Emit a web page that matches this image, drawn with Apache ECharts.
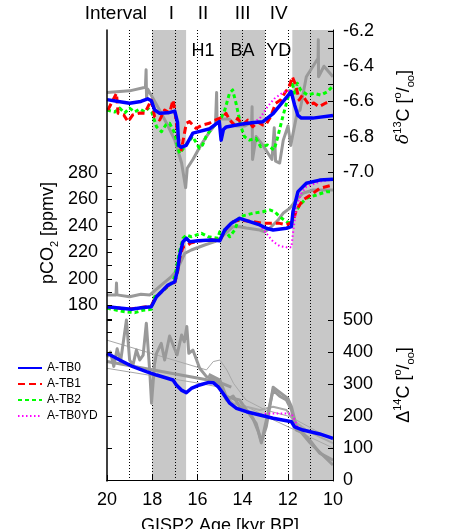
<!DOCTYPE html>
<html><head><meta charset="utf-8">
<script src="https://cdn.jsdelivr.net/npm/echarts@6/dist/echarts.min.js"></script>
<style>html,body{margin:0;padding:0;background:#fff}#c{width:465px;height:529px}</style>
</head><body><div id="c"></div><script>
// ---------- data ----------
const bands = [[18, 16.5], [15, 13], [11.8, 10]];
const dividers = [19, 18, 17, 16, 15, 14, 13, 12, 11];
const xTicks = [20, 18, 16, 14, 12, 10];
const d13cTicks = [-6.2, -6.4, -6.6, -6.8, -7.0];
const co2Ticks = [180, 200, 220, 240, 260, 280];
const d14cTicks = [0, 100, 200, 300, 400, 500];
const intervalNames = ['I', 'II', 'III', 'IV'];
const eventNames = ['H1', 'BA', 'YD'];
const seriesNames = ['A-TB0', 'A-TB1', 'A-TB2', 'A-TB0YD'];

// delta13C [permil]
const d13c_TB0 = [[20.0,-6.59],[19.5,-6.60],[19.0,-6.61],[18.5,-6.60],[18.2,-6.585],[18.04,-6.596],[17.89,-6.649],[17.67,-6.668],[17.3,-6.665],[17.0,-6.655],[16.88,-6.72],[16.83,-6.85],[16.7,-6.86],[16.5,-6.85],[16.2,-6.78],[15.9,-6.77],[15.45,-6.755],[15.2,-6.73],[15.03,-6.715],[14.95,-6.82],[14.85,-6.76],[14.72,-6.745],[14.1,-6.73],[13.5,-6.72],[13.1,-6.715],[12.65,-6.67],[11.85,-6.545],[11.7,-6.62],[11.55,-6.68],[11.4,-6.695],[10.9,-6.695],[10.0,-6.68]];
const d13c_TB1 = [[19.96,-6.649],[19.58,-6.554],[19.51,-6.668],[19.26,-6.677],[19.07,-6.715],[18.86,-6.677],[18.55,-6.666],[18.33,-6.668],[18.04,-6.592],[17.89,-6.689],[17.67,-6.706],[17.45,-6.649],[17.23,-6.666],[17.08,-6.592],[17.0,-6.649],[16.86,-6.80],[16.71,-6.876],[16.6,-6.80],[16.49,-6.724],[16.35,-6.715],[16.06,-6.753],[15.77,-6.734],[15.47,-6.724],[15.28,-6.71],[15.03,-6.696],[14.88,-6.687],[14.73,-6.668],[14.57,-6.706],[14.36,-6.734],[14.22,-6.696],[14.0,-6.734],[13.77,-6.706],[13.55,-6.744],[13.33,-6.717],[13.11,-6.734],[12.98,-6.734],[12.76,-6.687],[12.54,-6.611],[12.32,-6.592],[12.1,-6.545],[11.96,-6.524],[11.8,-6.46],[11.65,-6.507],[11.5,-6.592],[11.35,-6.564],[11.21,-6.592],[11.06,-6.62],[10.85,-6.609],[10.62,-6.63],[10.32,-6.609],[10.1,-6.602]];
const d13c_TB2 = [[20.0,-6.649],[19.66,-6.66],[19.44,-6.638],[19.22,-6.666],[19.0,-6.638],[18.77,-6.66],[18.55,-6.643],[18.33,-6.66],[18.19,-6.639],[18.02,-6.66],[17.81,-6.744],[17.59,-6.772],[17.4,-6.734],[17.23,-6.724],[17.0,-6.781],[16.87,-6.865],[16.78,-6.895],[16.56,-6.857],[16.34,-6.82],[16.21,-6.80],[15.91,-6.866],[15.77,-6.848],[15.62,-6.80],[15.32,-6.744],[15.03,-6.715],[14.81,-6.659],[14.58,-6.554],[14.44,-6.535],[14.29,-6.611],[14.07,-6.744],[13.92,-6.80],[13.7,-6.82],[13.41,-6.81],[13.2,-6.857],[12.9,-6.848],[12.61,-6.876],[12.46,-6.81],[12.24,-6.696],[12.02,-6.592],[11.8,-6.488],[11.7,-6.564],[11.58,-6.497],[11.43,-6.535],[11.13,-6.564],[10.84,-6.554],[10.54,-6.564],[10.25,-6.545],[10.03,-6.516]];
const d13c_TB0YD = [[20.0,-6.59],[19.5,-6.60],[19.0,-6.61],[18.5,-6.60],[18.2,-6.585],[18.04,-6.596],[17.89,-6.649],[17.67,-6.668],[17.3,-6.665],[17.0,-6.655],[16.88,-6.72],[16.83,-6.85],[16.7,-6.86],[16.5,-6.85],[16.2,-6.78],[15.9,-6.77],[15.45,-6.755],[15.2,-6.73],[15.03,-6.715],[14.95,-6.82],[14.85,-6.76],[14.72,-6.745],[14.1,-6.73],[13.5,-6.72],[13.2,-6.69],[12.9,-6.63],[12.6,-6.585],[12.3,-6.557],[12.0,-6.538],[11.85,-6.545],[11.7,-6.62],[11.55,-6.68],[11.4,-6.695],[10.9,-6.695],[10.0,-6.68]];
const d13c_obs = [[20.0,-6.55],[19.0,-6.54],[18.3,-6.52],[18.27,-6.42],[18.25,-6.58],[18.2,-6.53],[17.67,-6.65],[17.3,-6.74],[17.0,-6.82],[16.7,-6.95],[16.52,-7.09],[16.45,-6.98],[16.2,-6.93],[15.9,-6.86],[15.5,-6.78],[15.2,-6.73],[15.15,-6.55],[15.13,-6.7],[14.6,-6.7],[14.3,-6.74],[13.9,-6.74],[13.6,-6.72],[13.58,-6.63],[13.56,-6.93],[13.4,-6.8],[13.1,-6.85],[12.7,-6.93],[12.6,-6.75],[12.54,-6.94],[12.36,-6.95],[12.2,-6.82],[11.99,-6.74],[11.87,-6.85],[11.58,-6.66],[11.46,-6.65],[11.18,-6.46],[10.66,-6.355],[10.65,-6.25],[10.64,-6.46],[10.4,-6.40],[10.0,-6.46]];

// pCO2 [ppmv]
const co2_TB0 = [[20.0,179.1],[19.36,177.9],[18.92,177.1],[18.48,178.3],[18.04,179.1],[17.81,186.6],[17.59,190.4],[17.3,195.4],[17.0,197.9],[16.88,206.8],[16.78,218.1],[16.64,228.1],[16.49,230.6],[16.34,228.1],[15.97,228.8],[15.38,229.4],[15.01,228.8],[14.79,236.9],[14.5,241.9],[14.13,245.7],[13.69,243.2],[13.24,240.7],[12.95,238.2],[12.65,236.9],[12.06,238.2],[11.84,239.4],[11.77,250.7],[11.55,265.8],[11.18,272.1],[10.59,274.5],[10.0,275.1]];
const co2_TB1 = [[20.0,179],[19.4,178],[18.9,177.5],[18.5,178.5],[18.05,179.5],[17.85,186],[17.6,190],[17.3,195],[17.0,197.5],[16.88,205],[16.78,216],[16.64,224],[16.5,224.5],[16.3,227],[15.97,228.5],[15.4,229.5],[15.0,229],[14.72,238.2],[14.42,243.2],[14.13,244.4],[13.54,243.2],[13.1,241.9],[12.8,241.9],[12.36,241.9],[12.06,240.7],[11.77,243.2],[11.62,252],[11.33,259.5],[10.88,264.6],[10.59,268.3],[10.0,270.8]];
const co2_TB2 = [[20.0,178],[19.6,176.5],[19.22,175.3],[18.77,174.6],[18.4,176.5],[18.04,177.1],[17.89,186.6],[17.5,191.5],[17.15,196.7],[17.0,201.7],[16.78,221.8],[16.64,230.6],[16.49,233.1],[16.27,231.8],[15.82,234.4],[15.53,231.8],[15.09,230.6],[15.01,235.6],[14.8,237],[14.57,231.8],[14.35,236.9],[14.13,246.9],[13.83,248.2],[13.54,249.5],[13.1,250.7],[12.8,252],[12.58,250.7],[12.36,246.9],[12.06,243.2],[11.84,241.9],[11.7,249.5],[11.47,255.7],[11.18,260.8],[10.73,263.3],[10.29,265.8],[10.0,265.8]];
const co2_TB0YD = [[20.0,179.1],[19.36,177.9],[18.92,177.1],[18.48,178.3],[18.04,179.1],[17.81,186.6],[17.59,190.4],[17.3,195.4],[17.0,197.9],[16.88,206.8],[16.78,218.1],[16.64,228.1],[16.49,230.6],[16.34,228.1],[15.97,228.8],[15.38,229.4],[15.01,228.8],[14.79,236.9],[14.5,241.9],[14.13,245.7],[13.69,243.2],[13.24,240.7],[12.95,234.4],[12.65,228.1],[12.36,224.8],[12.06,223.9],[11.84,223.9],[11.77,234.4],[11.62,254.5],[11.4,264.6],[11.18,269.5],[10.59,273.3],[10.0,275]];
const co2_obs = [[20.0,188],[19.6,188],[19.58,197],[19.56,188],[19.0,186.6],[18.5,188.5],[18.1,188],[17.6,195.4],[17.15,201.7],[16.9,206.8],[16.56,219.3],[16.27,221.8],[15.68,225.6],[15.23,228.1],[15.01,230.6],[14.42,239.4],[14.13,239.4],[13.83,238.4],[13.24,236.9],[13.02,235.6],[12.8,238.2],[12.43,244.4],[12.21,249.5],[11.92,253.2],[11.62,259.5],[11.33,264.6],[10.88,267],[10.0,267]];

// Delta14C [permil]
const d14c_TB0 = [[20.0,396],[19.44,375],[18.85,354],[18.26,338.5],[17.81,328],[17.08,312.5],[16.93,297],[16.71,281],[16.49,273],[16.27,286],[15.9,297],[15.5,305],[15.3,304],[15.09,292],[14.87,271],[14.57,240],[14.27,224],[13.83,213.5],[13.24,203],[12.65,193],[12.06,185],[11.84,182],[11.7,166],[11.33,156],[10.59,144],[10.0,130]];
const d14c_TB0YD = [[20.0,396],[19.44,375],[18.85,354],[18.26,338.5],[17.81,328],[17.08,312.5],[16.93,297],[16.71,281],[16.49,273],[16.27,286],[15.9,297],[15.5,305],[15.3,304],[15.09,292],[14.87,271],[14.57,240],[14.27,224],[13.83,213.5],[13.24,203],[12.95,208],[11.84,208],[11.7,188],[11.55,163],[11.33,156],[10.59,144],[10.0,130]];
const d14c_obsA = [[20.0,385],[19.85,400],[19.7,355],[19.55,410],[19.4,370],[19.14,500],[19.0,375],[18.85,360],[18.7,406],[18.55,375],[18.4,390],[18.26,490],[18.1,330],[18.03,240],[17.9,360],[17.81,396],[17.6,427],[17.45,375],[17.23,450],[17.05,417],[16.9,391],[16.7,453],[16.58,432],[16.47,480],[16.38,396],[16.2,406],[15.9,349],[15.6,323],[15.3,315],[15.0,300],[14.72,250],[14.42,262],[14.13,229],[13.83,219],[13.55,194],[13.3,150],[13.17,116],[12.95,187],[12.65,281],[12.36,262],[12.06,250],[11.84,219],[11.62,156],[11.33,147],[11.03,125],[10.59,84],[10.0,62]];
const d14c_obsB = [[15.5,330],[15.0,312],[14.72,260],[14.13,250],[13.83,219],[13.4,177],[13.17,120],[12.95,167],[12.65,290],[12.0,255],[11.84,229],[11.62,167],[11.0,115],[10.0,47]];
const d14c_obsC = [[15.0,281],[14.42,240],[13.83,229],[13.24,219],[12.65,229],[12.06,219],[11.77,187],[11.18,156],[10.59,135],[10.0,115]];
const d14c_obsMean = [[20.0,370],[15.1,307],[14.5,290]];
const d14c_obsUpper = [[20.0,437],[15.6,344],[15.3,370],[15.0,375],[14.7,344],[14.4,302],[13.85,250],[13.0,219],[11.9,198],[10.0,125]];
const d14c_obsLower = [[20.0,349],[15.9,302],[15.15,292],[14.4,250],[13.0,200],[11.8,160],[10.0,100]];

// ---------- chart ----------
const FONT = 'Liberation Sans, Arial, Helvetica, sans-serif';
const chart = echarts.init(document.getElementById('c'), null, {renderer: 'canvas'});

function line(name, data, yi, color, width, type, z) {
  return {type: 'line', name: name, data: data, yAxisIndex: yi, xAxisIndex: 0,
    symbol: 'none', smooth: false, clip: false, z: z, silent: true, animation: false,
    lineStyle: {color: color, width: width, type: type, cap: 'butt', join: 'round'},
    itemStyle: {color: color}};
}
const GRAY = '#999999';
// shaded intervals: filled area on a hidden 0..1 axis (index 4)
const bandSeries = bands.map(b => ({
  type: 'line', data: [[b[0], 1], [b[1], 1]], yAxisIndex: 4, xAxisIndex: 0, z: 1,
  symbol: 'none', silent: true, animation: false,
  lineStyle: {width: 0, color: '#c8c8c8'}, areaStyle: {color: '#c8c8c8', opacity: 1, origin: 'start'}
}));
const series = [
  ...bandSeries,
  {type: 'line', data: [], yAxisIndex: 0, z: 2, silent: true, animation: false,
    markLine: {silent: true, z: 2, symbol: ['none', 'none'], label: {show: false},
      lineStyle: {color: '#000', width: 1, type: [1, 2]},
      data: dividers.map(d => ({xAxis: d}))}},
  line('obs13', d13c_obs, 0, GRAY, 3, 'solid', 3),
  line('obsco2', co2_obs, 1, GRAY, 3, 'solid', 3),
  line('obs14u', d14c_obsUpper, 2, '#a8a8a8', 1, 'solid', 3),
  line('obs14l', d14c_obsLower, 2, '#a8a8a8', 1, 'solid', 3),
  line('obs14m', d14c_obsMean, 2, GRAY, 3, 'solid', 3),
  line('obs14c', d14c_obsC, 2, '#aaaaaa', 2, 'solid', 3),
  line('obs14b', d14c_obsB, 2, GRAY, 3, 'solid', 3),
  line('obs14a', d14c_obsA, 2, GRAY, 3, 'solid', 3),
  line('A-TB2', d13c_TB2, 0, '#00ff00', 3, [4, 3], 4),
  line('A-TB2', co2_TB2, 1, '#00ff00', 3, [4, 3], 4),
  line('A-TB1', d13c_TB1, 0, '#ff0000', 3, [7, 4], 5),
  line('A-TB1', co2_TB1, 1, '#ff0000', 3, [7, 4], 5),
  line('A-TB0YD', d13c_TB0YD, 0, '#ff00ff', 2, [1.5, 2.5], 6),
  line('A-TB0YD', co2_TB0YD, 1, '#ff00ff', 2, [1.5, 2.5], 6),
  line('A-TB0YD', d14c_TB0YD, 2, '#ff00ff', 2, [1.5, 2.5], 6),
  line('A-TB0', d13c_TB0, 0, '#0000ff', 3.5, 'solid', 7),
  line('A-TB0', co2_TB0, 1, '#0000ff', 3.5, 'solid', 7),
  line('A-TB0', d14c_TB0, 2, '#0000ff', 3.5, 'solid', 7)
];

const labelStyle = {color: '#000', fontSize: 18, fontFamily: FONT};
function rng(a, b, s) { const r = []; for (let v = a; v <= b + 1e-9; v += s) r.push(+v.toFixed(4)); return r; }

const option = {
  animation: false,
  backgroundColor: '#fff',
  grid: {left: 107, right: 132, top: 30, bottom: 48, show: false},
  legend: {
    data: seriesNames, orient: 'vertical', left: 12, top: 357,
    itemWidth: 24, itemHeight: 10, itemGap: 4, selectedMode: false,
    itemStyle: {opacity: 0, borderWidth: 0},
    textStyle: {fontSize: 12, fontFamily: FONT, color: '#000', padding: [0, 0, 0, 0]}
  },
  xAxis: [
    {type: 'value', min: 10, max: 20, inverse: true, position: 'bottom', z: 10,
      axisLine: {show: true, lineStyle: {color: '#000', width: 1}},
      axisTick: {show: true, inside: true, length: 5, customValues: xTicks, lineStyle: {color: '#000'}},
      axisLabel: {show: true, customValues: xTicks, margin: 10, ...labelStyle},
      splitLine: {show: false}},
    {type: 'value', min: 10, max: 20, inverse: true, position: 'top', z: 10,
      axisLine: {show: true, lineStyle: {color: '#000', width: 1}},
      axisTick: {show: false}, axisLabel: {show: false}, splitLine: {show: false}}
  ],
  yAxis: [
    {type: 'value', position: 'right', min: -8.7568, max: -6.1943, z: 10,
      axisLine: {show: true, lineStyle: {color: '#000', width: 1}},
      axisTick: {show: true, inside: true, length: 5, customValues: rng(-7.0, -6.2, 0.1), lineStyle: {color: '#000'}},
      axisLabel: {show: true, customValues: d13cTicks, margin: 10, formatter: v => v.toFixed(1), ...labelStyle},
      splitLine: {show: false}},
    {type: 'value', position: 'left', min: 47.75, max: 387.6, z: 10,
      axisLine: {show: true, lineStyle: {color: '#000', width: 1.5}},
      axisTick: {show: true, inside: true, length: 5, customValues: rng(160, 280, 10), lineStyle: {color: '#000'}},
      axisLabel: {show: true, customValues: co2Ticks, margin: 9, ...labelStyle},
      splitLine: {show: false}},
    {type: 'value', position: 'right', min: -3.125, max: 1406.25, z: 10,
      axisLine: {show: false},
      axisTick: {show: true, inside: true, length: 5, customValues: d14cTicks, lineStyle: {color: '#000'}},
      axisLabel: {show: true, customValues: d14cTicks, margin: 10, padding: [0, 0, 6, 0], ...labelStyle},
      splitLine: {show: false}},
    {type: 'value', position: 'left', min: -3.125, max: 1406.25, z: 10,
      axisLine: {show: false},
      axisTick: {show: true, inside: true, length: 5, customValues: d14cTicks, lineStyle: {color: '#000'}},
      axisLabel: {show: false}, splitLine: {show: false}},
    {type: 'value', position: 'left', min: 0, max: 1, show: false}
  ],
  series: series
};
chart.setOption(option);

// ---------- text annotations placed from the axes ----------
function px(x, y, yi) { return chart.convertToPixel({xAxisIndex: 0, yAxisIndex: yi}, [x, y]); }
const intervalPos = [17.15, 15.75, 14.0, 12.4];
const eventPos = [15.75, 14.0, 12.4];
const gfx = [];
const topY = 14, evY = 51, ZT = 100;
gfx.push({type: 'text', z: ZT, x: 147, y: topY, style: {text: 'Interval', font: '19px ' + FONT, fill: '#000', align: 'right', verticalAlign: 'middle'}});
intervalNames.forEach((t, i) => {
  const p = px(intervalPos[i], -6.2, 0);
  gfx.push({type: 'text', z: ZT, x: p[0], y: topY, style: {text: t, font: '19px ' + FONT, fill: '#000', align: 'center', verticalAlign: 'middle'}});
});
eventNames.forEach((t, i) => {
  const p = px(eventPos[i], -6.2, 0);
  gfx.push({type: 'text', z: ZT, x: p[0], y: evY, style: {text: t, font: '18px ' + FONT, fill: '#000', align: 'center', verticalAlign: 'middle'}});
});
const richPm = {
  a: {fontSize: 18, fontFamily: FONT, lineHeight: 24, verticalAlign: 'middle'},
  sup: {fontSize: 11, fontFamily: FONT, lineHeight: 24, verticalAlign: 'top'},
  sub: {fontSize: 11, fontFamily: FONT, lineHeight: 24, verticalAlign: 'bottom'},
  g: {fontSize: 17, fontFamily: 'DejaVu Serif, serif', fontStyle: 'italic', lineHeight: 24, verticalAlign: 'middle'}
};
gfx.push({type: 'text', z: ZT, x: 48, y: 233, rotation: Math.PI / 2,
  style: {text: '{a|pCO}{sub|2}{a| [ppmv]}', rich: richPm, fill: '#000', align: 'center', verticalAlign: 'middle'}});
gfx.push({type: 'text', z: ZT, x: 404, y: 107, rotation: Math.PI / 2,
  style: {text: '{g|δ}{sup|13}{a|C [}{sup|o}{a|/}{sub|oo}{a|]}', rich: richPm, fill: '#000', align: 'center', verticalAlign: 'middle'}});
gfx.push({type: 'text', z: ZT, x: 404, y: 385, rotation: Math.PI / 2,
  style: {text: '{a|Δ}{sup|14}{a|C [}{sup|o}{a|/}{sub|oo}{a|]}', rich: richPm, fill: '#000', align: 'center', verticalAlign: 'middle'}});
gfx.push({type: 'text', z: ZT, x: 220, y: 526,
  style: {text: 'GISP2 Age [kyr BP]', font: '18px ' + FONT, fill: '#000', align: 'center', verticalAlign: 'middle'}});
chart.setOption({graphic: gfx});
</script></body></html>
